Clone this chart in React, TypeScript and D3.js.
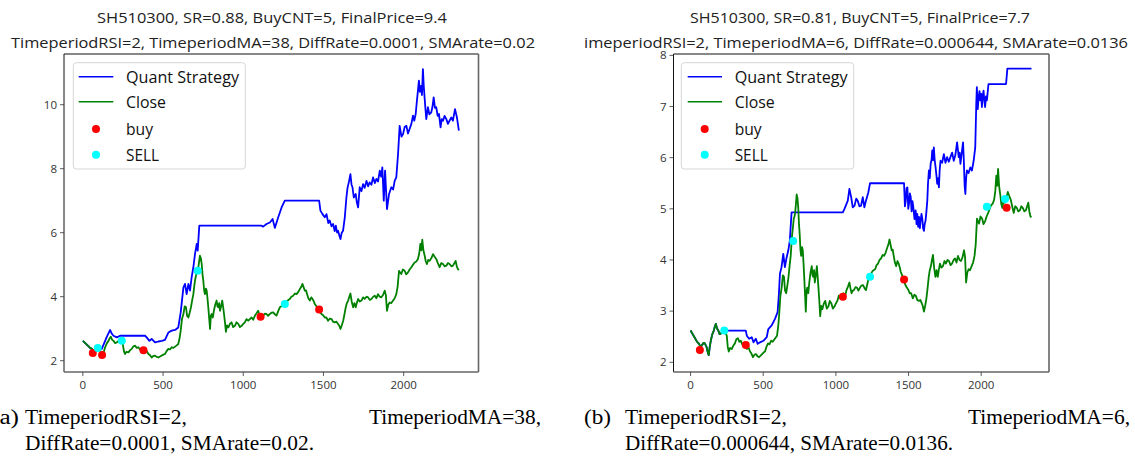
import React from 'react';
import * as d3 from 'd3';

type P = [number, number];

// Close price (shared by both panels): [day index, price]
const closeSeries: P[] = [
  [0,2.62],[25,2.50],[45,2.40],[56,2.37],[70,2.30],[77,2.33],[90,2.38],[98,2.37],[110,2.30],[118,2.20],
  [125,2.14],[132,2.30],[139,2.42],[150,2.55],[160,2.62],[167,2.70],[174,2.75],[182,2.66],[191,2.62],[200,2.55],
  [212,2.57],[222,2.62],[232,2.65],[240,2.58],[249,2.52],[256,2.30],[263,2.21],[272,2.28],[284,2.26],[295,2.33],
  [305,2.37],[315,2.45],[326,2.47],[336,2.40],[346,2.42],[356,2.35],[367,2.37],[378,2.33],[388,2.26],[398,2.30],
  [409,2.21],[419,2.17],[429,2.10],[440,2.15],[450,2.16],[460,2.12],[471,2.10],[482,2.13],[492,2.16],[502,2.19],
  [512,2.21],[522,2.30],[533,2.37],[543,2.35],[554,2.42],[565,2.40],[575,2.44],[585,2.48],[595,2.52],[603,2.70],
  [610,2.94],[618,3.30],[627,3.46],[635,3.70],[643,3.67],[650,3.40],[658,3.35],[666,3.50],[674,3.67],[682,3.90],
  [689,4.08],[694,4.30],[699,4.50],[705,4.65],[710,4.81],[715,4.85],[720,4.92],[725,5.10],[730,5.28],[736,5.20],
  [741,5.02],[746,4.70],[751,4.50],[756,4.20],[761,4.08],[767,4.25],[772,4.19],[777,3.95],[782,3.67],[788,3.30],
  [793,2.99],[798,3.40],[803,3.46],[810,3.35],[817,3.56],[825,3.75],[834,3.88],[839,3.70],[844,3.67],[850,3.80],
  [855,3.56],[862,3.70],[869,3.88],[874,3.70],[880,3.46],[886,3.20],[892,2.90],[899,3.10],[907,3.04],[917,3.15],
  [927,3.20],[937,3.05],[948,3.09],[958,3.20],[969,3.15],[979,3.05],[990,3.09],[1000,3.15],[1010,3.20],[1020,3.30],
  [1031,3.25],[1041,3.30],[1052,3.35],[1062,3.28],[1073,3.41],[1083,3.48],[1093,3.56],[1100,3.45],[1108,3.35],[1116,3.40],
  [1124,3.41],[1135,3.47],[1145,3.46],[1155,3.40],[1166,3.46],[1176,3.50],[1187,3.51],[1197,3.45],[1207,3.41],[1218,3.55],
  [1228,3.67],[1238,3.70],[1249,3.77],[1259,3.80],[1270,3.82],[1280,3.90],[1290,3.93],[1300,4.00],[1311,4.03],[1322,4.10],
  [1332,4.08],[1343,4.15],[1353,4.24],[1361,4.30],[1369,4.40],[1376,4.30],[1384,4.19],[1391,4.20],[1398,4.08],[1406,3.95],
  [1415,3.88],[1424,3.98],[1432,3.93],[1440,3.85],[1446,3.77],[1456,3.70],[1467,3.62],[1477,3.52],[1488,3.46],[1498,3.42],
  [1508,3.35],[1518,3.35],[1529,3.25],[1540,3.32],[1550,3.30],[1560,3.22],[1571,3.20],[1581,3.22],[1591,3.15],[1598,3.10],
  [1606,2.99],[1614,3.10],[1623,3.25],[1631,3.45],[1639,3.67],[1646,3.80],[1654,3.88],[1661,4.00],[1668,4.10],[1676,3.85],
  [1685,3.67],[1693,3.80],[1701,3.67],[1708,3.80],[1716,3.93],[1726,3.85],[1737,3.88],[1747,3.98],[1757,3.93],[1768,4.00],
  [1778,3.98],[1789,3.90],[1799,3.93],[1810,4.00],[1820,4.03],[1830,3.95],[1840,4.08],[1851,4.00],[1861,3.98],[1871,4.05],
  [1882,4.19],[1889,4.05],[1896,3.56],[1904,3.75],[1913,3.82],[1923,3.80],[1934,3.88],[1944,3.95],[1954,4.08],[1962,4.30],
  [1971,4.81],[1978,4.75],[1985,4.71],[1995,4.85],[2006,4.81],[2016,4.70],[2027,4.76],[2037,4.85],[2048,4.92],[2058,5.00],
  [2068,5.07],[2079,5.10],[2089,5.18],[2097,5.35],[2104,5.65],[2110,5.45],[2116,5.78],[2123,5.45],[2131,5.28],[2138,5.10],
  [2145,5.02],[2153,5.15],[2162,5.12],[2172,5.20],[2183,5.33],[2193,5.25],[2203,5.18],[2213,5.05],[2224,4.92],[2234,5.05],
  [2245,5.02],[2255,4.95],[2266,4.97],[2276,5.05],[2286,5.02],[2297,4.95],[2307,4.97],[2316,5.05],[2324,5.12],[2331,4.95],
  [2338,4.86],[2344,4.83]
];

// Panel (a): Quant Strategy equity
const quantA: P[] = [
  [0,2.62],[25,2.50],[45,2.40],[56,2.37],[70,2.30],[77,2.33],[93,2.40],[118,2.37],[139,2.62],[150,2.75],
  [170,2.96],[180,2.85],[191,2.78],[212,2.73],[232,2.78],[388,2.78],[398,2.73],[415,2.62],[429,2.68],[450,2.57],
  [471,2.60],[492,2.62],[512,2.65],[533,2.88],[554,2.94],[575,2.96],[595,3.04],[610,3.51],[627,4.29],[637,4.40],
  [647,4.08],[658,4.40],[668,4.19],[678,4.60],[689,4.92],[699,5.33],[710,5.65],[716,5.44],[726,6.22],[1114,6.22],
  [1124,6.19],[1145,6.27],[1166,6.32],[1183,6.43],[1197,6.15],[1218,6.48],[1239,6.79],[1259,7.00],[1473,7.00],[1481,6.69],
  [1494,6.58],[1508,6.48],[1519,6.58],[1530,6.30],[1539,6.38],[1550,6.20],[1560,6.27],[1570,6.05],[1577,6.22],[1585,6.00],
  [1591,6.06],[1600,5.90],[1606,5.80],[1614,6.00],[1622,6.06],[1633,6.48],[1643,7.10],[1650,7.40],[1660,7.62],[1668,7.83],
  [1675,7.50],[1681,7.42],[1689,7.10],[1701,7.21],[1708,6.95],[1716,6.79],[1726,7.42],[1737,7.30],[1747,7.52],[1757,7.40],
  [1768,7.62],[1778,7.45],[1788,7.57],[1799,7.50],[1809,7.73],[1820,7.55],[1830,7.68],[1840,7.60],[1851,7.94],[1860,7.75],
  [1867,8.04],[1876,7.00],[1884,7.94],[1896,6.74],[1909,7.21],[1923,7.42],[1934,7.35],[1944,7.62],[1954,7.73],[1965,8.46],
  [1975,9.34],[1986,9.00],[1996,9.08],[2006,9.30],[2017,9.34],[2027,9.10],[2037,9.24],[2048,9.40],[2058,9.66],[2066,9.50],
  [2075,9.71],[2082,10.10],[2089,10.44],[2095,10.75],[2101,10.40],[2108,10.59],[2114,10.30],[2120,11.11],[2125,10.60],[2131,10.18],
  [2136,9.85],[2141,9.55],[2151,9.92],[2160,9.70],[2172,9.76],[2180,9.95],[2187,10.23],[2195,9.90],[2203,9.92],[2212,9.65],
  [2220,9.71],[2230,9.29],[2237,9.55],[2245,9.50],[2255,9.65],[2266,9.55],[2276,9.40],[2286,9.50],[2297,9.60],[2307,9.50],
  [2320,9.86],[2332,9.60],[2344,9.19]
];
const buyA: P[] = [[62,2.24],[120,2.18],[378,2.33],[1108,3.37],[1473,3.60]];
const sellA: P[] = [[93,2.40],[243,2.62],[716,4.81],[1259,3.77]];

// Panel (b): Quant Strategy equity
const quantB: P[] = [
  [0,2.62],[25,2.50],[45,2.40],[56,2.37],[70,2.30],[77,2.33],[90,2.38],[98,2.37],[110,2.30],[118,2.20],
  [125,2.14],[132,2.30],[139,2.42],[150,2.55],[160,2.62],[167,2.70],[174,2.75],[182,2.66],[191,2.62],[200,2.55],
  [212,2.57],[222,2.62],[232,2.62],[380,2.62],[387,2.52],[403,2.46],[421,2.49],[433,2.39],[449,2.46],[462,2.36],
  [478,2.39],[501,2.42],[524,2.49],[535,2.65],[558,2.72],[581,2.85],[599,2.98],[608,3.34],[615,3.73],[626,3.86],
  [638,4.12],[649,3.86],[661,4.05],[672,4.18],[683,4.38],[695,4.93],[1048,4.93],[1059,5.00],[1082,5.16],[1093,5.39],
  [1105,5.23],[1116,5.03],[1128,5.06],[1140,5.20],[1150,5.16],[1162,5.05],[1173,5.06],[1185,5.23],[1196,5.03],[1207,5.16],
  [1223,5.32],[1235,5.50],[1469,5.50],[1475,5.05],[1481,5.16],[1486,5.40],[1492,5.42],[1498,5.00],[1503,5.10],[1509,5.30],
  [1515,5.23],[1521,4.95],[1527,5.15],[1533,5.03],[1541,4.80],[1549,4.97],[1555,4.70],[1560,4.90],[1566,4.65],[1572,4.84],
  [1578,4.62],[1583,4.77],[1589,4.90],[1595,4.80],[1600,4.62],[1606,4.57],[1611,4.70],[1617,4.77],[1623,4.95],[1629,5.16],
  [1634,5.50],[1640,5.75],[1646,5.60],[1652,5.88],[1658,5.95],[1663,6.14],[1669,5.95],[1674,6.20],[1680,5.95],[1686,5.81],
  [1692,5.65],[1697,5.49],[1703,5.60],[1709,5.42],[1714,5.75],[1720,5.94],[1731,5.90],[1743,6.07],[1754,5.90],[1765,6.01],
  [1777,5.92],[1788,6.01],[1800,6.10],[1811,5.94],[1822,6.05],[1834,6.30],[1840,6.15],[1845,6.01],[1851,6.10],[1857,5.88],
  [1866,6.10],[1875,6.30],[1881,5.90],[1886,5.45],[1891,5.29],[1896,5.60],[1902,5.75],[1913,5.70],[1925,5.81],[1936,5.75],
  [1948,5.94],[1959,6.20],[1966,7.05],[1970,7.38],[1976,6.95],[1982,7.18],[1988,7.30],[1993,7.12],[1999,7.25],[2005,6.99],
  [2010,7.20],[2016,7.31],[2022,7.10],[2027,6.99],[2033,7.20],[2039,7.12],[2050,7.44],[2171,7.44],[2180,7.74],[2346,7.74]
];
const buyB: P[] = [[64,2.24],[380,2.34],[1048,3.28],[1469,3.62],[2175,5.02]];
const sellB: P[] = [[232,2.62],[706,4.37],[1235,3.67],[2039,5.04],[2164,5.19]];

const xTicks = [0, 500, 1000, 1500, 2000];
const yTicksA = [2, 4, 6, 8, 10];
const yTicksB = [2, 3, 4, 5, 6, 7, 8];
const xDomain: [number, number] = [-117.45, 2466.45];
const legendLabels = ['Quant Strategy', 'Close', 'buy', 'SELL'];
const legendWidths = [113, 40, 27, 33];
const titleA = ['SH510300, SR=0.88, BuyCNT=5, FinalPrice=9.4', 'TimeperiodRSI=2, TimeperiodMA=38, DiffRate=0.0001, SMArate=0.02'];
const titleB = ['SH510300, SR=0.81, BuyCNT=5, FinalPrice=7.7', 'TimeperiodRSI=2, TimeperiodMA=6, DiffRate=0.000644, SMArate=0.0136'];
const captionA = ['(a)', 'TimeperiodRSI=2,', 'TimeperiodMA=38,', 'DiffRate=0.0001, SMArate=0.02.'];
const captionB = ['(b)', 'TimeperiodRSI=2,', 'TimeperiodMA=6,', 'DiffRate=0.000644, SMArate=0.0136.'];

const SANS = '"Open Sans", "Noto Sans", sans-serif';
const SERIF = '"Liberation Serif", "DejaVu Serif", serif';

type PanelProps = {
  x0: number; x1: number; y0: number; y1: number;
  yDomain: [number, number]; yTicks: number[];
  quant: P[]; buy: P[]; sell: P[];
  legendBox: [number, number, number, number];
  legendLine: [number, number]; legendDot: number; legendText: number;
};

function Panel(p: PanelProps) {
  const x = d3.scaleLinear().domain(xDomain).range([p.x0, p.x1]);
  const y = d3.scaleLinear().domain(p.yDomain).range([p.y1, p.y0]);
  const line = d3.line<P>().x(d => x(d[0])).y(d => y(d[1]));
  const rows = [76.7, 101.7, 129, 154.7];
  return (
    <g>
      <path d={line(p.quant) || ''} fill="none" stroke="#0000ff" strokeWidth={1.8} strokeLinejoin="round" />
      <path d={line(closeSeries) || ''} fill="none" stroke="#008000" strokeWidth={1.8} strokeLinejoin="round" />
      {p.buy.map((d, i) => <circle key={'b' + i} cx={x(d[0])} cy={y(d[1])} r={4} fill="#ff0000" />)}
      {p.sell.map((d, i) => <circle key={'s' + i} cx={x(d[0])} cy={y(d[1])} r={4} fill="#00ffff" />)}
      <line x1={p.x0} x2={p.x1} y1={p.y0} y2={p.y0} stroke="#111" strokeWidth={1} />
      <line x1={p.x0} x2={p.x0} y1={p.y0} y2={p.y1} stroke="#111" strokeWidth={1} />
      <line x1={p.x1} x2={p.x1} y1={p.y0} y2={p.y1} stroke="#666" strokeWidth={1.6} />
      <line x1={p.x0} x2={p.x1} y1={p.y1} y2={p.y1} stroke="#666" strokeWidth={1.6} />
      {xTicks.map(t => (
        <g key={'x' + t}>
          <line x1={x(t)} x2={x(t)} y1={p.y1} y2={p.y1 + 4} stroke="#333" strokeWidth={0.8} />
          <text x={x(t)} y={p.y1 + 17} textAnchor="middle" fontFamily={SANS} fontSize={11.5} fill="#333">{t}</text>
        </g>
      ))}
      {p.yTicks.map(t => (
        <g key={'y' + t}>
          <line x1={p.x0 - 4} x2={p.x0} y1={y(t)} y2={y(t)} stroke="#333" strokeWidth={0.8} />
          <text x={p.x0 - 7} y={y(t) + 4} textAnchor="end" fontFamily={SANS} fontSize={11.5} fill="#333">{t}</text>
        </g>
      ))}
      <rect x={p.legendBox[0]} y={p.legendBox[1]} width={p.legendBox[2]} height={p.legendBox[3]} rx={3}
        fill="white" fillOpacity={0.8} stroke="#d6d6d6" strokeWidth={1} />
      <line x1={p.legendLine[0]} x2={p.legendLine[1]} y1={rows[0]} y2={rows[0]} stroke="#0000ff" strokeWidth={1.6} />
      <line x1={p.legendLine[0]} x2={p.legendLine[1]} y1={rows[1]} y2={rows[1]} stroke="#008000" strokeWidth={1.6} />
      <circle cx={p.legendDot} cy={rows[2]} r={4} fill="#ff0000" />
      <circle cx={p.legendDot} cy={rows[3]} r={4} fill="#00ffff" />
      {legendLabels.map((l, i) => (
        <text key={l} x={p.legendText} y={rows[i] + 6} fontFamily={SANS} fontSize={16.5} fill="#111"
          textLength={legendWidths[i]} lengthAdjust="spacingAndGlyphs">{l}</text>
      ))}
    </g>
  );
}

function Cap({ x, y, w, s, anchor }: { x: number; y: number; w: number; s: string; anchor?: string }) {
  return (
    <text x={x} y={y} textAnchor={anchor || 'start'} fontFamily={SERIF} fontSize={20.5} fill="#000"
      textLength={w} lengthAdjust="spacingAndGlyphs">{s}</text>
  );
}

export default function App() {
  return (
    <svg width={1135} height={464} style={{ position: 'absolute', left: 0, top: 0, background: 'white' }}>
      <defs>
        <clipPath id="clipB"><rect x={584.5} y={0} width={560} height={464} /></clipPath>
      </defs>
      <rect x={0} y={0} width={1135} height={464} fill="white" />
      <text x={272} y={23} textAnchor="middle" fontFamily={SANS} fontSize={15} fill="#222" textLength={350} lengthAdjust="spacingAndGlyphs">{titleA[0]}</text>
      <text x={273} y={48} textAnchor="middle" fontFamily={SANS} fontSize={15} fill="#222" textLength={524} lengthAdjust="spacingAndGlyphs">{titleA[1]}</text>
      <g clipPath="url(#clipB)">
        <text x={860} y={23} textAnchor="middle" fontFamily={SANS} fontSize={15} fill="#222" textLength={340} lengthAdjust="spacingAndGlyphs">{titleB[0]}</text>
        <text x={575} y={48} fontFamily={SANS} fontSize={15} fill="#222" textLength={553} lengthAdjust="spacingAndGlyphs">{titleB[1]}</text>
      </g>
      <Panel x0={64} x1={478.5} y0={54} y1={372} yDomain={[1.647, 11.584]} yTicks={yTicksA}
        quant={quantA} buy={buyA} sell={sellA}
        legendBox={[73.3, 62.7, 172, 106.3]} legendLine={[78.7, 113.3]} legendDot={96} legendText={126} />
      <Panel x0={673.5} x1={1049} y0={54} y1={372} yDomain={[1.81, 8.027]} yTicks={yTicksB}
        quant={quantB} buy={buyB} sell={sellB}
        legendBox={[681.3, 62.7, 172.4, 106.3]} legendLine={[687.7, 722]} legendDot={704.7} legendText={734.7} />
      <Cap x={19} y={424} w={28} s={captionA[0]} anchor="end" />
      <Cap x={25} y={424} w={162} s={captionA[1]} />
      <Cap x={541} y={424} w={172} s={captionA[2]} anchor="end" />
      <Cap x={25} y={450} w={289} s={captionA[3]} />
      <Cap x={584} y={424} w={27} s={captionB[0]} />
      <Cap x={625} y={424} w={162} s={captionB[1]} />
      <Cap x={1130} y={424} w={162} s={captionB[2]} anchor="end" />
      <Cap x={625} y={450} w={328} s={captionB[3]} />
    </svg>
  );
}
